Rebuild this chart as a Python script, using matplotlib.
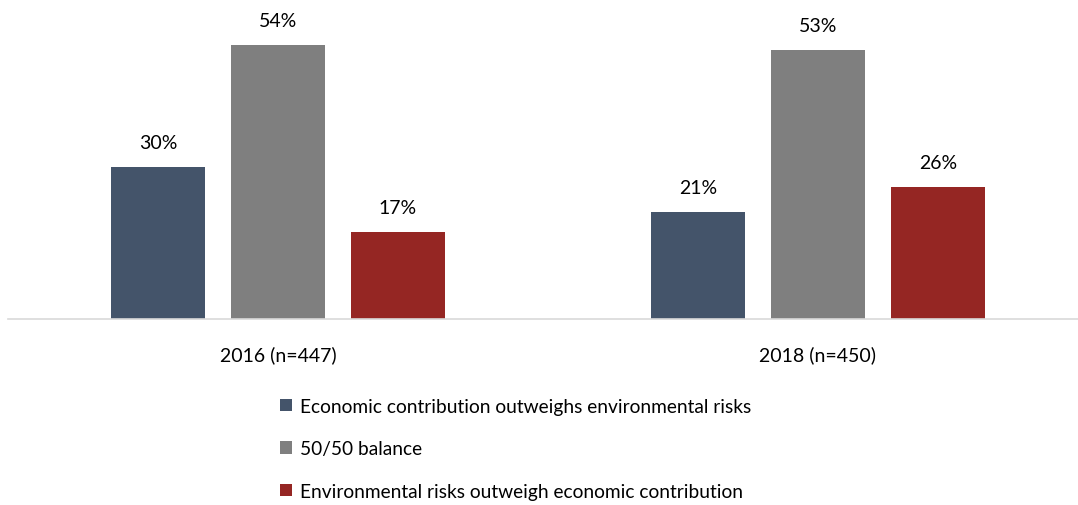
import matplotlib
matplotlib.use("Agg")
import matplotlib.pyplot as plt
import numpy as np
from matplotlib.patches import Patch

categories = ["2016 (n=447)", "2018 (n=450)"]
series_names = ["Economic contribution outweighs environmental risks",
                "50/50 balance",
                "Environmental risks outweigh economic contribution"]
economic = [30, 21]
balance = [54, 53]
environmental = [17, 26]
colors = ["#44546A", "#7F7F7F", "#952623"]

plt.rcParams['font.family'] = ['Lato', 'DejaVu Sans']

fig = plt.figure(figsize=(10.78, 5.06), dpi=100)
ax = fig.add_axes([8/1078, 186.5/506, 1080/1078, 304/506])

x = np.arange(len(categories))
width = 0.174
step = 0.222
for i, (vals, c) in enumerate(zip([economic, balance, environmental], colors)):
    bars = ax.bar(x + (i - 1) * step, vals, width, color=c, clip_on=False)
    for b, v in zip(bars, vals):
        ax.annotate(f"{v}%", (b.get_x() + b.get_width()/2, v), xytext=(0, 11.5),
                    textcoords="offset points", ha="center", va="bottom",
                    fontsize=14, color="#000000", annotation_clip=False)

ax.set_xlim(-0.5, 1.5)
ax.set_ylim(0, 60)
for s in ["top", "right", "left"]:
    ax.spines[s].set_visible(False)
ax.spines["bottom"].set_color("#D9D9D9")
ax.spines["bottom"].set_linewidth(1.2)
ax.set_yticks([])
ax.set_xticks(x)
ax.set_xticklabels(categories, fontsize=14)
ax.tick_params(axis="x", length=0, pad=19)

handles = [Patch(facecolor=c, label=n) for c, n in zip(colors, series_names)]
fig.legend(handles=handles, loc="upper left", bbox_to_anchor=(272/1078, 1 - 391/506),
           frameon=False, fontsize=13.8, handlelength=0.65, handleheight=0.65,
           handletextpad=0.4, labelspacing=1.33, borderaxespad=0)

fig.savefig("out.png", dpi=100)
